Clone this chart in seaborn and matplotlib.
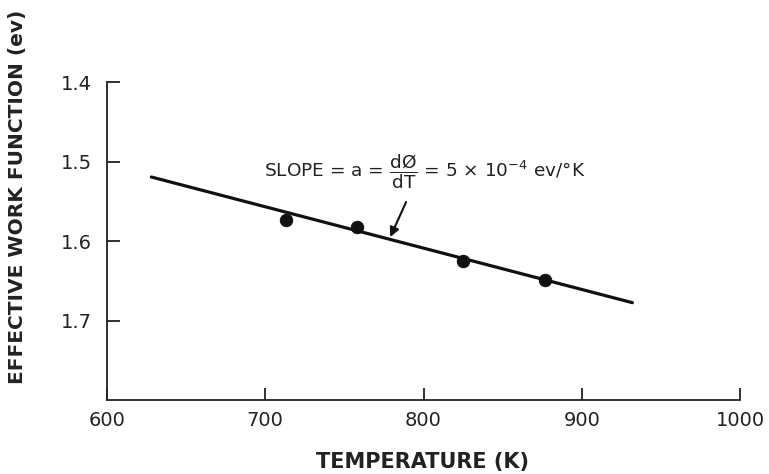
import matplotlib
matplotlib.use("Agg")
import matplotlib.pyplot as plt
import seaborn as sns
import pandas as pd

# data
temps = [713, 758, 825, 877]
work_fn = [1.573, 1.583, 1.625, 1.649]
fit_t = [628, 932]
fit_phi = [1.5195, 1.6776]
xticks = [600, 700, 800, 900, 1000]
yticks = [1.4, 1.5, 1.6, 1.7]

sns.set_theme(style="white")
plt.rcParams['font.family'] = ['DejaVu Sans']
plt.rcParams['mathtext.fontset'] = 'dejavusans'

fig = plt.figure(figsize=(7.69, 4.74), dpi=100)
ax = fig.add_axes([107/769, 1-400/474, (740-107)/769, (400-82)/474])

pts = pd.DataFrame({"T": temps, "phi": work_fn})
fit = pd.DataFrame({"T": fit_t, "phi": fit_phi})
sns.lineplot(data=fit, x="T", y="phi", ax=ax, color="#111111", linewidth=2.3)
sns.scatterplot(data=pts, x="T", y="phi", ax=ax, color="#111111", s=80,
                edgecolor="#111111", zorder=3)

ax.set_xlim(600, 1000)
ax.set_ylim(1.8, 1.4)
ax.set_xticks(xticks)
ax.set_yticks(yticks)
ax.set_xticklabels([str(t) for t in xticks])
ax.set_yticklabels([f"{t:.1f}" for t in yticks])
for s in ["top", "right"]:
    ax.spines[s].set_visible(False)
for s in ["left", "bottom"]:
    ax.spines[s].set_color("#222222")
    ax.spines[s].set_linewidth(1.3)
ax.tick_params(bottom=True, left=True, direction="in", length=9, width=1.3,
               color="#222222", labelsize=14, labelcolor="#222222", pad=8)
ax.tick_params(axis="y", pad=11)
ax.set_xlabel("")
ax.set_ylabel("")

fig.text(422/769, 1-462/474, "TEMPERATURE (K)", ha="center", va="center",
         fontsize=15, fontweight="bold", color="#222222")
fig.text(18/769, 1-197/474, "EFFECTIVE WORK FUNCTION (ev)", ha="center",
         va="center", rotation=90, fontsize=14.5, fontweight="bold", color="#222222")

ax.text(801, 1.513,
        r"SLOPE = a = $\dfrac{\mathrm{dØ}}{\mathrm{dT}}$ = 5 × 10$^{-4}$ ev/°K",
        ha="center", va="center", fontsize=13.3, color="#222222")
ax.annotate("", xy=(779, 1.595), xytext=(789, 1.551),
            arrowprops=dict(arrowstyle="-|>", color="#111111", lw=1.5,
                            mutation_scale=14, shrinkA=0, shrinkB=0))

fig.savefig("out.png", dpi=100)
